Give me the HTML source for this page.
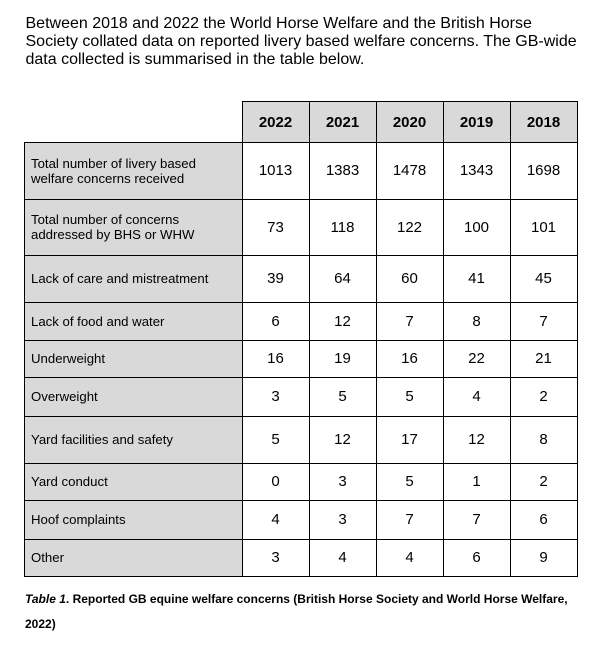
<!DOCTYPE html>
<html>
<head>
<meta charset="utf-8">
<style>
  html, body { margin:0; padding:0; background:#ffffff; }
  body { width:608px; height:649px; position:relative; overflow:hidden;
         font-family:"Liberation Sans", Arial, sans-serif; color:#000; }
  .para { position:absolute; left:25.5px; top:15px; font-size:16px; line-height:18px; white-space:nowrap; }
  .cap { position:absolute; left:25px; top:587px; font-size:12px; line-height:25px; font-weight:bold; white-space:nowrap; }
  .bg { position:absolute; background:#d9d9d9; }
  .hl { position:absolute; height:1px; background:#000; }
  .vl { position:absolute; width:1px; background:#000; }
  .lab { position:absolute; left:24px; width:218px; display:flex; align-items:center;
         font-size:13.2px; line-height:15px; padding-left:7px; box-sizing:border-box; white-space:nowrap; }
  .num { position:absolute; display:flex; align-items:center; justify-content:center; font-size:15px; white-space:nowrap; }
  .hd { font-weight:bold; }
</style>
</head>
<body>
<div class="para">Between 2018 and 2022 the World Horse Welfare and the British Horse<br>Society collated data on reported livery based welfare concerns. The GB-wide<br>data collected is summarised in the table below.</div>

<div class="bg" style="left:242px;top:101px;width:336px;height:41px;"></div>
<div class="bg" style="left:24px;top:142px;width:218px;height:434px;"></div>

<div class="num hd" style="left:242px;top:102px;width:67px;height:40px;">2022</div>
<div class="num hd" style="left:309px;top:102px;width:67px;height:40px;">2021</div>
<div class="num hd" style="left:376px;top:102px;width:67px;height:40px;">2020</div>
<div class="num hd" style="left:443px;top:102px;width:67px;height:40px;">2019</div>
<div class="num hd" style="left:510px;top:102px;width:67px;height:40px;">2018</div>

<div class="lab" style="top:142px;height:57px;">Total number of livery based<br>welfare concerns received</div>
<div class="num" style="left:242px;top:142px;width:67px;height:57px;">1013</div>
<div class="num" style="left:309px;top:142px;width:67px;height:57px;">1383</div>
<div class="num" style="left:376px;top:142px;width:67px;height:57px;">1478</div>
<div class="num" style="left:443px;top:142px;width:67px;height:57px;">1343</div>
<div class="num" style="left:510px;top:142px;width:67px;height:57px;">1698</div>

<div class="lab" style="top:199px;height:56px;">Total number of concerns<br>addressed by BHS or WHW</div>
<div class="num" style="left:242px;top:199px;width:67px;height:56px;">73</div>
<div class="num" style="left:309px;top:199px;width:67px;height:56px;">118</div>
<div class="num" style="left:376px;top:199px;width:67px;height:56px;">122</div>
<div class="num" style="left:443px;top:199px;width:67px;height:56px;">100</div>
<div class="num" style="left:510px;top:199px;width:67px;height:56px;">101</div>

<div class="lab" style="top:255px;height:47px;">Lack of care and mistreatment</div>
<div class="num" style="left:242px;top:255px;width:67px;height:47px;">39</div>
<div class="num" style="left:309px;top:255px;width:67px;height:47px;">64</div>
<div class="num" style="left:376px;top:255px;width:67px;height:47px;">60</div>
<div class="num" style="left:443px;top:255px;width:67px;height:47px;">41</div>
<div class="num" style="left:510px;top:255px;width:67px;height:47px;">45</div>

<div class="lab" style="top:302px;height:38px;">Lack of food and water</div>
<div class="num" style="left:242px;top:302px;width:67px;height:38px;">6</div>
<div class="num" style="left:309px;top:302px;width:67px;height:38px;">12</div>
<div class="num" style="left:376px;top:302px;width:67px;height:38px;">7</div>
<div class="num" style="left:443px;top:302px;width:67px;height:38px;">8</div>
<div class="num" style="left:510px;top:302px;width:67px;height:38px;">7</div>

<div class="lab" style="top:340px;height:37px;">Underweight</div>
<div class="num" style="left:242px;top:340px;width:67px;height:37px;">16</div>
<div class="num" style="left:309px;top:340px;width:67px;height:37px;">19</div>
<div class="num" style="left:376px;top:340px;width:67px;height:37px;">16</div>
<div class="num" style="left:443px;top:340px;width:67px;height:37px;">22</div>
<div class="num" style="left:510px;top:340px;width:67px;height:37px;">21</div>

<div class="lab" style="top:377px;height:39px;">Overweight</div>
<div class="num" style="left:242px;top:377px;width:67px;height:39px;">3</div>
<div class="num" style="left:309px;top:377px;width:67px;height:39px;">5</div>
<div class="num" style="left:376px;top:377px;width:67px;height:39px;">5</div>
<div class="num" style="left:443px;top:377px;width:67px;height:39px;">4</div>
<div class="num" style="left:510px;top:377px;width:67px;height:39px;">2</div>

<div class="lab" style="top:416px;height:47px;">Yard facilities and safety</div>
<div class="num" style="left:242px;top:416px;width:67px;height:47px;">5</div>
<div class="num" style="left:309px;top:416px;width:67px;height:47px;">12</div>
<div class="num" style="left:376px;top:416px;width:67px;height:47px;">17</div>
<div class="num" style="left:443px;top:416px;width:67px;height:47px;">12</div>
<div class="num" style="left:510px;top:416px;width:67px;height:47px;">8</div>

<div class="lab" style="top:463px;height:37px;">Yard conduct</div>
<div class="num" style="left:242px;top:463px;width:67px;height:37px;">0</div>
<div class="num" style="left:309px;top:463px;width:67px;height:37px;">3</div>
<div class="num" style="left:376px;top:463px;width:67px;height:37px;">5</div>
<div class="num" style="left:443px;top:463px;width:67px;height:37px;">1</div>
<div class="num" style="left:510px;top:463px;width:67px;height:37px;">2</div>

<div class="lab" style="top:500px;height:39px;">Hoof complaints</div>
<div class="num" style="left:242px;top:500px;width:67px;height:39px;">4</div>
<div class="num" style="left:309px;top:500px;width:67px;height:39px;">3</div>
<div class="num" style="left:376px;top:500px;width:67px;height:39px;">7</div>
<div class="num" style="left:443px;top:500px;width:67px;height:39px;">7</div>
<div class="num" style="left:510px;top:500px;width:67px;height:39px;">6</div>

<div class="lab" style="top:539px;height:37px;">Other</div>
<div class="num" style="left:242px;top:539px;width:67px;height:37px;">3</div>
<div class="num" style="left:309px;top:539px;width:67px;height:37px;">4</div>
<div class="num" style="left:376px;top:539px;width:67px;height:37px;">4</div>
<div class="num" style="left:443px;top:539px;width:67px;height:37px;">6</div>
<div class="num" style="left:510px;top:539px;width:67px;height:37px;">9</div>

<div class="hl" style="left:242px;top:101px;width:336px;"></div>
<div class="hl" style="left:24px;top:142px;width:554px;"></div>
<div class="hl" style="left:24px;top:199px;width:554px;"></div>
<div class="hl" style="left:24px;top:255px;width:554px;"></div>
<div class="hl" style="left:24px;top:302px;width:554px;"></div>
<div class="hl" style="left:24px;top:340px;width:554px;"></div>
<div class="hl" style="left:24px;top:377px;width:554px;"></div>
<div class="hl" style="left:24px;top:416px;width:554px;"></div>
<div class="hl" style="left:24px;top:463px;width:554px;"></div>
<div class="hl" style="left:24px;top:500px;width:554px;"></div>
<div class="hl" style="left:24px;top:539px;width:554px;"></div>
<div class="hl" style="left:24px;top:576px;width:554px;"></div>

<div class="vl" style="left:24px;top:142px;height:435px;"></div>
<div class="vl" style="left:242px;top:101px;height:476px;"></div>
<div class="vl" style="left:309px;top:101px;height:476px;"></div>
<div class="vl" style="left:376px;top:101px;height:476px;"></div>
<div class="vl" style="left:443px;top:101px;height:476px;"></div>
<div class="vl" style="left:510px;top:101px;height:476px;"></div>
<div class="vl" style="left:577px;top:101px;height:476px;"></div>

<div class="cap"><i>Table 1</i>. Reported GB equine welfare concerns (British Horse Society and World Horse Welfare,<br>2022)</div>
</body>
</html>
